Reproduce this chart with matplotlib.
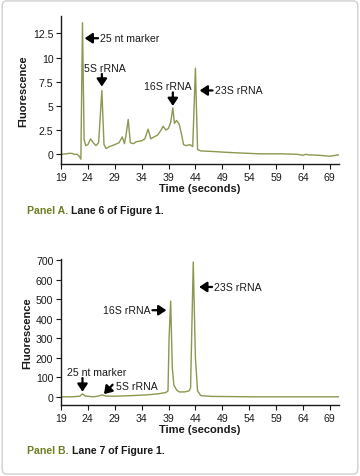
import matplotlib
matplotlib.use("Agg")
import matplotlib.pyplot as plt
from matplotlib.patches import FancyBboxPatch
from matplotlib import font_manager

names = {f.name for f in font_manager.fontManager.ttflist}
narrow = [n for n in ("Liberation Sans Narrow", "DejaVu Sans Condensed") if n in names]
plt.rcParams["font.family"] = narrow + ["Liberation Sans", "DejaVu Sans"]
FS = 8.5 if narrow else 7.6

LINE = "#8e9650"
CAPTION = "#6f7d22"
INK = "#1a1a1a"

# Panel A: lane 6 trace (time in s, fluorescence)
time_a = [19.0, 20.0, 20.5, 21.0, 21.5, 22.0, 22.4, 22.7, 23.0, 23.3, 23.6, 24.0, 24.5,
          25.0, 25.5, 26.0, 26.6, 27.0, 27.4, 28.0, 29.0, 29.8, 30.4, 30.8, 31.1, 31.5,
          31.9, 32.5, 33.0, 34.0, 34.6, 35.2, 35.7, 36.3, 37.0, 37.6, 38.0, 38.5, 39.0,
          39.4, 39.8, 40.1, 40.5, 41.0, 41.4, 41.8, 42.3, 43.0, 43.5, 44.0, 44.4, 45.0,
          47.0, 50.0, 53.0, 56.0, 60.0, 63.0, 64.0, 64.5, 65.0, 67.0, 69.0, 70.7]
fluor_a = [0.0, 0.05, 0.1, 0.1, 0.0, 0.0, -0.2, -0.5, 13.6, 1.5, 0.9, 1.0, 1.6,
           1.2, 0.9, 1.2, 6.6, 1.0, 0.6, 0.8, 1.0, 1.2, 1.8, 1.1, 2.0, 3.6,
           1.2, 1.1, 1.3, 1.4, 1.6, 2.6, 1.6, 1.8, 2.0, 2.5, 2.9, 2.5, 2.7,
           3.3, 4.8, 3.2, 3.5, 3.1, 2.1, 1.0, 0.9, 1.0, 0.8, 8.9, 0.5, 0.35,
           0.3, 0.2, 0.12, 0.05, 0.05, 0.0, -0.1, 0.0, -0.05, -0.1, -0.2, -0.05]

# Panel B: lane 7 trace
time_b = [19.0, 21.0, 22.5, 23.0, 23.5, 25.0, 26.0, 26.6, 27.3, 29.0, 32.0, 35.0, 37.0,
          38.5, 38.9, 39.1, 39.4, 39.7, 40.0, 40.5, 41.0, 42.0, 42.8, 43.1, 43.6, 44.0,
          44.4, 45.0, 47.0, 55.0, 70.7]
fluor_b = [0.0, 0.0, 3.0, 15.0, 4.0, 0.0, 4.0, 10.0, 4.0, 3.0, 6.0, 10.0, 15.0,
           22.0, 30.0, 300.0, 490.0, 150.0, 60.0, 35.0, 25.0, 25.0, 30.0, 45.0, 690.0, 200.0,
           30.0, 6.0, 2.0, 0.0, 0.0]

ticks_x = [19, 24, 29, 34, 39, 44, 49, 54, 59, 64, 69]
ticks_a = [0, 2.5, 5, 7.5, 10, 12.5]
tick_labels_a = ["0", "2.5", "5", "7.5", "10", "12.5"]
ticks_b = [0, 100, 200, 300, 400, 500, 600, 700]

fig = plt.figure(figsize=(3.6, 4.77), dpi=100)
fig.patch.set_facecolor("white")

# border card
card = FancyBboxPatch((0.006, 0.004), 0.988, 0.992, transform=fig.transFigure,
                      boxstyle="round,pad=0,rounding_size=0.012",
                      linewidth=1.0, edgecolor="#d0d0d0", facecolor="none")
fig.patches.append(card)


def style_axes(ax, ylim, yticks, ylabels):
    ax.set_xlim(19, 70.7)
    ax.set_ylim(*ylim)
    ax.set_xticks(ticks_x)
    ax.set_yticks(yticks)
    ax.set_yticklabels(ylabels)
    for side in ("top", "right"):
        ax.spines[side].set_visible(False)
    for side in ("left", "bottom"):
        ax.spines[side].set_color(INK)
        ax.spines[side].set_linewidth(1.0)
    ax.tick_params(direction="out", length=3.5, width=0.8, colors=INK,
                   labelsize=FS, pad=2)
    ax.set_xlabel("Time (seconds)", fontsize=FS + 0.4, fontweight="bold", color=INK, labelpad=1)
    ax.set_ylabel("Fluorescence", fontsize=FS + 0.4, fontweight="bold", color=INK, labelpad=3)


arrow = dict(arrowstyle="-|>,head_length=0.45,head_width=0.3", color="black", lw=1.6,
             shrinkA=0, shrinkB=0)
txt = dict(fontsize=FS, color=INK)

# Panel A
ax1 = fig.add_axes([0.1694, 0.6541, 0.7722, 0.3103])
ax1.plot(time_a, fluor_a, color=LINE, lw=1.0)
style_axes(ax1, (-1.0, 14.3), ticks_a, tick_labels_a)
ax1.annotate("", xy=(23.4, 12.0), xytext=(25.9, 12.0), arrowprops=arrow)
ax1.text(26.2, 12.0, "25 nt marker", ha="left", va="center", **txt)
ax1.text(27.2, 8.9, "5S rRNA", ha="center", va="center", **txt)
ax1.annotate("", xy=(26.6, 7.0), xytext=(26.6, 8.3), arrowprops=arrow)
ax1.text(38.9, 7.05, "16S rRNA", ha="center", va="center", **txt)
ax1.annotate("", xy=(39.8, 5.0), xytext=(39.8, 6.4), arrowprops=arrow)
ax1.annotate("", xy=(44.8, 6.6), xytext=(47.2, 6.6), arrowprops=arrow)
ax1.text(47.6, 6.6, "23S rRNA", ha="left", va="center", **txt)

# Panel B
ax2 = fig.add_axes([0.1694, 0.1488, 0.7722, 0.3061])
ax2.plot(time_b, fluor_b, color=LINE, lw=1.0)
style_axes(ax2, (-42, 705), ticks_b, [str(v) for v in ticks_b])
ax2.text(25.6, 125, "25 nt marker", ha="center", va="center", **txt)
ax2.annotate("", xy=(23.0, 26), xytext=(23.0, 96), arrowprops=arrow)
ax2.annotate("", xy=(27.0, 14), xytext=(28.6, 62), arrowprops=arrow)
ax2.text(29.3, 53, "5S rRNA", ha="left", va="center", **txt)
ax2.text(35.7, 443, "16S rRNA", ha="right", va="center", **txt)
ax2.annotate("", xy=(38.6, 443), xytext=(36.0, 443), arrowprops=arrow)
ax2.annotate("", xy=(44.7, 562), xytext=(47.1, 562), arrowprops=arrow)
ax2.text(47.5, 562, "23S rRNA", ha="left", va="center", **txt)

# captions
for y, panel, lane in [(1 - 211 / 477, "Panel A.", "Lane 6 of Figure 1."),
                       (1 - 451 / 477, "Panel B.", "Lane 7 of Figure 1.")]:
    t = fig.text(27 / 360, y, panel + " ", ha="left", va="center", fontsize=FS,
                 fontweight="bold", color=CAPTION)
    fig.canvas.draw()
    bb = t.get_window_extent()
    fig.text(bb.x1 / fig.bbox.width, y, lane, ha="left", va="center", fontsize=FS,
             fontweight="bold", color=INK)

fig.savefig("out.png", dpi=100, facecolor="white")
plt.close(fig)
